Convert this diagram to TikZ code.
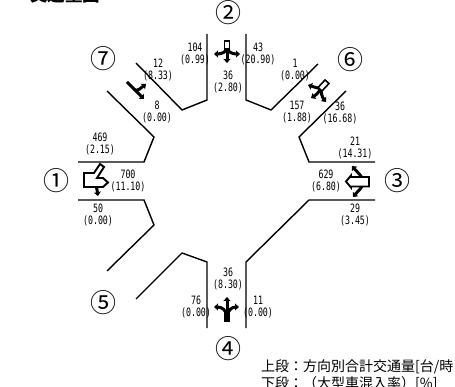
\documentclass[tikz,border=0pt]{standalone}
\usepackage{fontspec}
\usetikzlibrary{arrows.meta}
\newfontfamily\jpfont{Noto Sans CJK JP}
\newfontfamily\numfont[FakeStretch=0.72]{DejaVu Sans Mono}
\tikzset{
   road/.style={line width=1.4pt},
   vol/.style={align=center, inner sep=0pt, font=\fontsize{11.5}{11.3}\selectfont\numfont},
   arm/.style={inner sep=0pt, font=\fontsize{26}{26}\selectfont\jpfont},
   legend/.style={inner sep=0pt, anchor=west, font=\fontsize{14}{14}\selectfont\jpfont},
   move/.style={line width=3pt, -{Stealth[length=4pt,width=7pt,inset=0.5pt]}},
   hollow/.style={line width=1.9pt, line join=miter, fill=white},
}
\begin{document}
\begin{tikzpicture}[x=1pt, y=-1pt]
   \useasboundingbox (0,0) rectangle (455,387);
   \node[inner sep=0pt, font=\fontsize{17.5}{17.5}\selectfont\jpfont\bfseries] (title) at (65,-5) {交通量図};

   \draw[road] (207,34) -- (207,100) -- (182,110) -- (136,63);
   \draw[road] (107,91) -- (154,137) -- (144,162) -- (78,162);
   \draw[road] (246,34) -- (246,100) -- (271,110) -- (318,64);
   \draw[road] (346,91) -- (299,137) -- (309,162) -- (375,162);
   \draw[road] (375,200) -- (309,200) -- (246,262) -- (246,328);
   \draw[road] (78,200) -- (144,200) -- (154,225) -- (107,271);
   \draw[road] (136,299) -- (182,253) -- (207,262) -- (207,328);

   \node[arm] (A1) at (56,181) {①};
   \node[arm] (A2) at (228,13) {②};
   \node[arm] (A3) at (397,181) {③};
   \node[arm] (A4) at (228,349) {④};
   \node[arm] (A5) at (103,303) {⑤};
   \node[arm] (A6) at (350,60) {⑥};
   \node[arm] (A7) at (103,59) {⑦};

   \node[vol] (V1in) at (100,144) {469\\(2.15)};
   \node[vol] (V1) at (128,181) {700\\(11.10)};
   \node[vol] (V1out) at (98,215) {50\\(0.00)};
   \node[vol] (V7in) at (158,70) {12\\(8.33)};
   \node[vol] (V7) at (157,112) {8\\(0.00)};
   \node[vol] (V2in) at (195,54) {104\\(0.99)};
   \node[vol] (V2) at (228,82) {36\\(2.80)};
   \node[vol] (V2out) at (258,54) {43\\(20.90)};
   \node[vol] (V6in) at (295,70) {1\\(0.00)};
   \node[vol] (V6) at (297,112) {157\\(1.88)};
   \node[vol] (V6out) at (340,113) {36\\(16.68)};
   \node[vol] (V3in) at (355,148) {21\\(14.31)};
   \node[vol] (V3) at (326,181) {629\\(6.80)};
   \node[vol] (V3out) at (355,215) {29\\(3.45)};
   \node[vol] (V4) at (228,279) {36\\(8.30)};
   \node[vol] (V4in) at (196,307) {76\\(0.00)};
   \node[vol] (V4out) at (258,307) {11\\(0.00)};

   % arm 1
   \draw[move] (95,184) .. controls (97,187) and (97,190) .. (98,196);
   \draw[hollow] (84,173) -- (94,173) -- (100,164) -- (104,167) -- (97,178) -- (103,178) -- (108,182.5) -- (103,187) -- (84,187) -- cycle;
   % arm 3
   \draw[move] (362,178) .. controls (360,174) and (358,173) .. (352,166);
   \draw[move] (362,186) .. controls (360,190) and (358,191) .. (353,197);
   \draw[hollow] (369,177) -- (351,177) -- (351,175.5) -- (346,181.5) -- (351,187.5) -- (351,186.5) -- (369,186.5) -- cycle;
   % arm 2
   \draw[move] (227,48) -- (227,63);
   \draw[move] (227,48) .. controls (226,52) and (222,54) .. (214,54);
   \draw[move] (227,48) .. controls (228,52) and (232,54) .. (240,54);
   \draw[hollow] (224.5,41) rectangle (229.5,49);
   % arm 4
   \draw[move, line width=6pt, -] (227,322) -- (227,310);
   \draw[move] (227,312) -- (227,297);
   \draw[move] (227,316) .. controls (226,310) and (222,307) .. (214,307);
   \draw[move] (227,316) .. controls (228,310) and (232,307) .. (239,307);
   % arm 7
   \draw[move] (127,82) -- (144,99);
   \draw[move] (135,90) .. controls (138,91) and (141,88) .. (146,84);
   % arm 6
   \draw[move] (321,89) .. controls (318,88) and (314,87) .. (308,85);
   \draw[move] (321,89) .. controls (319,92) and (316,95) .. (311,98);
   \draw[move] (321,89) .. controls (321,93) and (322,97) .. (326,102);
   \draw[hollow, line width=1.6pt] (325,80) -- (329,83.5) -- (322,91) -- (318,87.5) -- cycle;

   \node[legend] (L1) at (261,367) {上段：方向別合計交通量[台/時};
   \node[legend] (L2) at (261,384) {下段：（大型車混入率）[\%]};
\end{tikzpicture}
\end{document}
